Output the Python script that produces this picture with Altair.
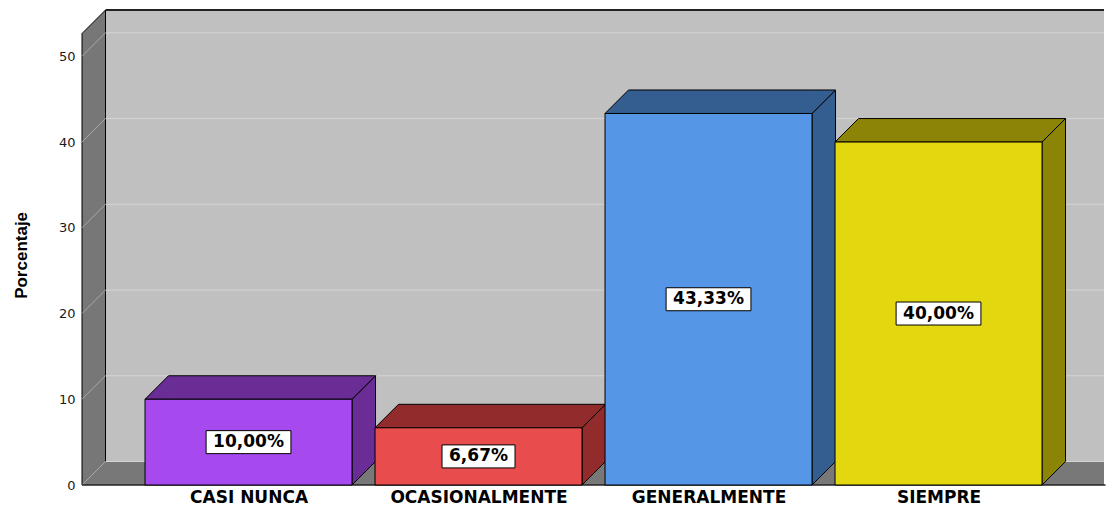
import json
import altair as alt
import pandas as pd

# ---------------- data ----------------
CATEGORIES = ["CASI NUNCA", "OCASIONALMENTE", "GENERALMENTE", "SIEMPRE"]
PERCENTS = [10.00, 6.67, 43.33, 40.00]
FRONT_COLORS = ["#a64af0", "#e84c4c", "#5596e6", "#e3d810"]
SHADE_COLORS = ["#6a2d96", "#922c2c", "#345e8f", "#8c8406"]
TICKS = [0, 10, 20, 30, 40, 50]

# ---------------- layout constants ----------------
W, H = 1022, 475            # plot area in px
SLOT_PX = 230.0             # px per category slot
XMAX = W / SLOT_PX
YMAX = 55.4                 # top of back wall (percent units)
UNIT_PX = H / YMAX
DEPTH_PX = 23.5
DX = DEPTH_PX / SLOT_PX
DY = DEPTH_PX / UNIT_PX
OFFSET = 0.274              # first bar start (slot units)
BW = 0.9                    # bar width (slot units)
FLOOR_END = 4.45
FONT_LBL = 17
EM = {",": 0.38, "%": 1.002}

def pct_label(p):
    return f"{p:.2f}".replace(".", ",") + "%"

def text_w(s, fs):
    return sum(EM.get(ch, 0.696) for ch in s) * fs

bar_rows, face_rows = [], []
for i, (c, p) in enumerate(zip(CATEGORIES, PERCENTS)):
    x0 = OFFSET + i
    x1 = x0 + BW
    lab = pct_label(p)
    bw = (text_w(lab, FONT_LBL) + 14) / 2 / SLOT_PX
    bh = 11.5 / UNIT_PX
    bar_rows.append(dict(cat=c, x0=x0, x1=x1, xc=(x0 + x1) / 2, v=p, zero=0,
                         ymid=p / 2, label=lab, front=FRONT_COLORS[i],
                         shade=SHADE_COLORS[i], bx0=(x0 + x1) / 2 - bw,
                         bx1=(x0 + x1) / 2 + bw, by0=p / 2 - bh, by1=p / 2 + bh))
    for (xx, ya, yb) in [(x0, p, p), (x0 + DX, p, p + DY), (x1, p, p + DY), (x1 + DX, p + DY, p + DY)]:
        face_rows.append(dict(cat=c, face="top", x=xx, y=ya, y2=yb, shade=SHADE_COLORS[i]))
    for (xx, ya, yb) in [(x1, 0, p), (x1 + DX, DY, p + DY)]:
        face_rows.append(dict(cat=c, face="side", x=xx, y=ya, y2=yb, shade=SHADE_COLORS[i]))

bars = pd.DataFrame(bar_rows)
faces = pd.DataFrame(face_rows)
ticks = pd.DataFrame({"t": TICKS})
ticks["tb"] = ticks["t"] + DY

xs = alt.Scale(domain=[0, XMAX], nice=False, zero=False)
ys = alt.Scale(domain=[0, YMAX], nice=False, zero=False)

centers = [OFFSET + i + BW / 2 for i in range(len(CATEGORIES))]
x_axis = alt.Axis(values=centers, labelExpr=f"{json.dumps(CATEGORIES)}[floor(datum.value)]",
                  domain=False, ticks=False, grid=False, title="", labelPadding=4,
                  labelFont="DejaVu Sans", labelFontWeight="bold", labelFontSize=17,
                  labelColor="black", labelOverlap=False, labelFlush=False)
y_axis = alt.Axis(values=TICKS, title="Porcentaje", domain=False, ticks=False, grid=False,
                  labelPadding=7, labelFont="DejaVu Sans", labelFontSize=13,
                  labelColor="#1a1a1a", titleFont="Liberation Sans", titleFontSize=17,
                  titleFontWeight="bold", titleColor="black", titleX=-52,
                  titleY=H * (261.5 - 13) / 482,
                  titleAlign="center", titleBaseline="bottom")

X = lambda f: alt.X(f, scale=xs)
Y = lambda f: alt.Y(f, scale=ys)

backwall = alt.Chart(pd.DataFrame({"a": [DX], "b": [XMAX], "c": [DY], "d": [YMAX]})).mark_rect(
    fill="#c0c0c0").encode(
    x=alt.X("a:Q", scale=xs, axis=x_axis), x2="b:Q",
    y=alt.Y("c:Q", scale=ys, axis=y_axis), y2="d:Q")

floor_df = pd.DataFrame({"x": [0, DX, FLOOR_END, FLOOR_END + DX],
                         "y": [0, 0, 0, DY], "y2": [0, DY, DY, DY]})
floor = alt.Chart(floor_df).mark_area(fill="#787878", clip=True).encode(
    x=X("x:Q"), y=Y("y:Q"), y2="y2:Q")

wall_df = pd.DataFrame({"x": [0, DX], "y": [0, DY], "y2": [YMAX - DY, YMAX]})
wall = alt.Chart(wall_df).mark_area(fill="#777777", stroke="black", strokeWidth=1).encode(
    x=X("x:Q"), y=Y("y:Q"), y2="y2:Q")

grid_back = alt.Chart(ticks).mark_rule(color="#d4d4d4", strokeWidth=1).encode(
    x=alt.datum(DX), x2=alt.datum(XMAX), y=Y("tb:Q"))
grid_wall = alt.Chart(ticks).mark_rule(color="#a8a8a8", strokeWidth=1).encode(
    x=alt.datum(0), x2=alt.datum(DX), y=Y("t:Q"), y2="tb:Q")

top_edge = alt.Chart(pd.DataFrame({"y": [YMAX]})).mark_rule(color="#222222", strokeWidth=2).encode(
    x=alt.datum(DX), x2=alt.datum(XMAX), y=Y("y:Q"))
front_edge = alt.Chart(pd.DataFrame({"y": [0]})).mark_rule(color="#222222", strokeWidth=1.5).encode(
    x=alt.datum(0), x2=alt.datum(FLOOR_END), y=Y("y:Q"))

side = alt.Chart(faces).transform_filter(alt.datum.face == "side").mark_area(
    stroke="black", strokeWidth=1).encode(
    x=X("x:Q"), y=Y("y:Q"), y2="y2:Q",
    fill=alt.Fill("shade:N", scale=None), detail="cat:N")
top = alt.Chart(faces).transform_filter(alt.datum.face == "top").mark_area(
    stroke="black", strokeWidth=1).encode(
    x=X("x:Q"), y=Y("y:Q"), y2="y2:Q",
    fill=alt.Fill("shade:N", scale=None), detail="cat:N")

front = alt.Chart(bars).mark_rect(stroke="black", strokeWidth=1).encode(
    x=X("x0:Q"), x2="x1:Q", y=Y("zero:Q"), y2="v:Q",
    fill=alt.Fill("front:N", scale=None))

boxes = alt.Chart(bars).mark_rect(fill="white", stroke="black", strokeWidth=1).encode(
    x=X("bx0:Q"), x2="bx1:Q", y=Y("by0:Q"), y2="by1:Q")
texts = alt.Chart(bars).mark_text(font="DejaVu Sans", fontWeight="bold", fontSize=FONT_LBL,
                                  color="black", align="center", baseline="middle").encode(
    x=X("xc:Q"), y=Y("ymid:Q"), text="label:N")

chart = alt.layer(backwall, floor, wall, grid_back, grid_wall, top_edge, front_edge,
                  side, top, front, boxes, texts).properties(
    width=W, height=H, padding={"left": 4, "top": 0, "right": 0, "bottom": 0},
    background="white"
).configure_view(stroke=None)

chart.save("out.html", embed_options={"renderer": "svg", "actions": False})
